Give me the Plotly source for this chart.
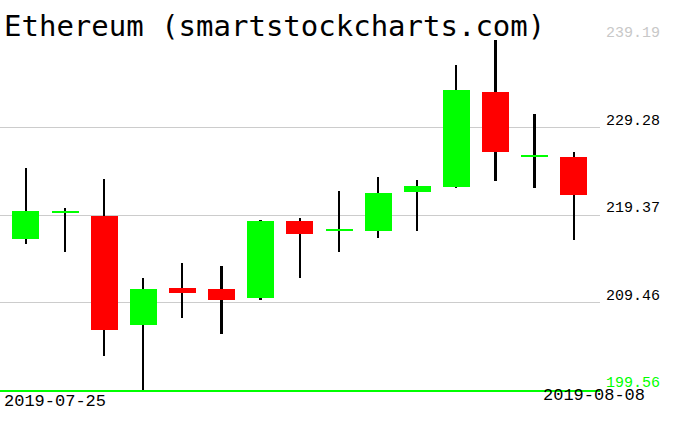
import plotly.graph_objects as go

# ---- data ----
dates = ["2019-07-25", "2019-07-26", "2019-07-27", "2019-07-28", "2019-07-29",
         "2019-07-30", "2019-07-31", "2019-08-01", "2019-08-02", "2019-08-03",
         "2019-08-04", "2019-08-05", "2019-08-06", "2019-08-07", "2019-08-08"]
opens  = [216.68, 219.66, 219.29, 206.96, 211.13, 211.01, 210.03, 218.72,
          217.51, 217.62, 221.93, 222.50, 233.35, 226.01, 225.98]
highs  = [224.73, 220.20, 223.49, 212.26, 213.96, 213.62, 218.80, 219.06,
          222.12, 223.71, 223.37, 236.33, 239.19, 230.82, 226.51]
lows   = [216.04, 215.13, 203.45, 199.56, 207.76, 205.94, 209.80, 212.29,
          215.24, 216.72, 217.62, 222.45, 223.18, 222.39, 216.49]
closes = [219.86, 219.86, 206.40, 211.01, 210.59, 209.77, 218.72, 217.28,
          217.82, 221.82, 222.69, 233.58, 226.47, 226.21, 221.59]

tick_vals = [199.56, 209.46, 219.37, 229.28, 239.19]
tick_text = ["199.56", "209.46", "219.37", "229.28", "239.19"]
tick_colors = ["#00ff00", "#000000", "#000000", "#000000", "#c8c8c8"]

title_text = "Ethereum (smartstockcharts.com)"
first_label = dates[0]
last_label = dates[-1]

UP = "#00ff00"
DOWN = "#ff0000"

# ---- build traces ----
wick_base = lows
wick_len = [h - l for h, l in zip(highs, lows)]
body_base = [min(o, c) for o, c in zip(opens, closes)]
body_len = [abs(c - o) for o, c in zip(opens, closes)]
body_col = [UP if c >= o else DOWN for o, c in zip(opens, closes)]

fig = go.Figure()
fig.add_trace(go.Bar(x=dates, y=wick_len, base=wick_base,
                     marker=dict(color="#000000", line=dict(width=0)),
                     width=0.045, hoverinfo="skip", showlegend=False))
fig.add_trace(go.Bar(x=dates, y=body_len, base=body_base,
                     marker=dict(color=body_col, line=dict(width=0)),
                     width=0.69, showlegend=False))

annotations = []
for v, t, c in zip(tick_vals, tick_text, tick_colors):
    annotations.append(dict(x=1, xref="paper", xanchor="left", xshift=4,
                            y=v, yref="y", yanchor="bottom", yshift=-4,
                            text=t, showarrow=False,
                            font=dict(family="Liberation Mono", size=15, color=c)))
annotations.append(dict(x=0, xref="paper", xanchor="left", xshift=2,
                        y=0, yref="paper", yanchor="middle", yshift=-11,
                        text=first_label, showarrow=False,
                        font=dict(family="Liberation Mono", size=17, color="#000000")))
annotations.append(dict(x=1, xref="paper", xanchor="right", xshift=47,
                        y=0, yref="paper", yanchor="middle", yshift=-5,
                        text=last_label, showarrow=False,
                        font=dict(family="Liberation Mono", size=17, color="#000000")))
annotations.append(dict(x=0, xref="paper", xanchor="left", xshift=2,
                        y=1, yref="paper", yanchor="middle", yshift=14,
                        text=title_text, showarrow=False,
                        font=dict(family="DejaVu Sans Mono", size=29, color="#000000")))

fig.update_layout(
    width=676, height=431,
    margin=dict(l=0, r=76, t=40, b=41),
    paper_bgcolor="#ffffff", plot_bgcolor="#ffffff",
    showlegend=False,
    annotations=annotations,
    barmode="overlay",
    bargap=0,
)
fig.update_xaxes(type="category", range=[-0.664, 14.665],
                 showgrid=False, showticklabels=False, ticks="",
                 showline=True, linecolor="#00ff00", linewidth=1.5,
                 zeroline=False, layer="above traces")
fig.update_yaxes(range=[199.56, 239.19], side="right",
                 tickvals=tick_vals, showticklabels=False, ticks="",
                 showgrid=True, gridcolor="#cccccc", gridwidth=1.2,
                 zeroline=False, showline=False, layer="above traces")

fig.write_html("out.html",
               config={"displayModeBar": False},
               post_script="document.body.style.margin='0px';document.body.style.overflow='hidden';")
